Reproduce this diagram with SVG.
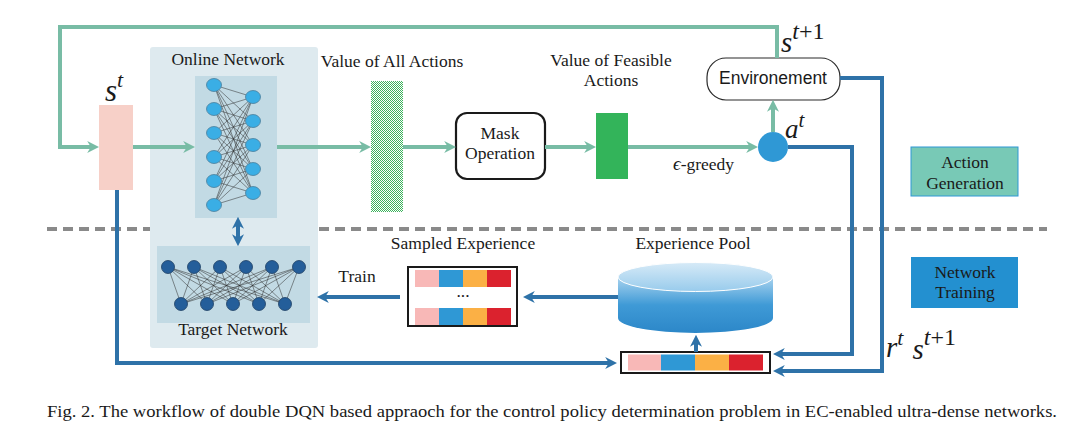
<svg xmlns="http://www.w3.org/2000/svg" width="1071" height="438" viewBox="0 0 1071 438">
<style>
.t{font-family:"Liberation Serif","Times New Roman",serif;font-size:17.5px;fill:#1a1a1a}
.m{font-family:"Liberation Serif","Times New Roman",serif;font-style:italic;fill:#1a1a1a}
.g{fill:none;stroke:#78bca5;stroke-width:4}
.b{fill:none;stroke:#2e72a8;stroke-width:4}
.w{fill:none;stroke:#2b2b2b;stroke-width:0.6;opacity:0.85}
.on{fill:#3aaee5;stroke:#4a7f9c;stroke-width:0.8}
.tn{fill:#245e9a;stroke:#1d3f63;stroke-width:0.8}
</style>
<defs>
<marker id="ag" viewBox="0 0 10 10" refX="4" refY="5" markerWidth="12" markerHeight="12" markerUnits="userSpaceOnUse" orient="auto"><path d="M0,0 L10,5 L0,10 L3,5 z" fill="#78bca5"/></marker>
<marker id="ab" viewBox="0 0 10 10" refX="4" refY="5" markerWidth="12" markerHeight="12" markerUnits="userSpaceOnUse" orient="auto-start-reverse"><path d="M0,0 L10,5 L0,10 L3,5 z" fill="#2e72a8"/></marker>
<pattern id="chk" width="2" height="2" patternUnits="userSpaceOnUse"><rect width="2" height="2" fill="#ffffff"/><rect width="1" height="1" fill="#3cb35c"/><rect x="1" y="1" width="1" height="1" fill="#3cb35c"/></pattern>
<linearGradient id="cyl" x1="0" y1="0" x2="0" y2="1"><stop offset="0" stop-color="#a9d3ef"/><stop offset="0.5" stop-color="#3f9ad6"/><stop offset="1" stop-color="#2c87c8"/></linearGradient>
<linearGradient id="cyltop" x1="0" y1="0" x2="0" y2="1"><stop offset="0" stop-color="#d6eaf7"/><stop offset="1" stop-color="#98cbec"/></linearGradient>
</defs>
<rect width="1071" height="438" fill="#ffffff"/>

<line x1="47" y1="229" x2="1047" y2="229" stroke="#8a8a8a" stroke-width="4" stroke-dasharray="10,6"/>

<g id="online-panel">
<rect x="150" y="47" width="168" height="301" rx="3" fill="#deeaef"/>
<text class="t" x="228" y="65" text-anchor="middle">Online Network</text>
</g>

<g id="online-network">
<rect x="195" y="76" width="82" height="142" fill="#c2dae4"/>
<path class="w" d="M214,85L253,97M214,85L253,121M214,85L253,145M214,85L253,169M214,85L253,193M214,109L253,97M214,109L253,121M214,109L253,145M214,109L253,169M214,109L253,193M214,133L253,97M214,133L253,121M214,133L253,145M214,133L253,169M214,133L253,193M214,157L253,97M214,157L253,121M214,157L253,145M214,157L253,169M214,157L253,193M214,181L253,97M214,181L253,121M214,181L253,145M214,181L253,169M214,181L253,193M214,205L253,97M214,205L253,121M214,205L253,145M214,205L253,169M214,205L253,193"/>
<ellipse class="on" cx="214" cy="85" rx="7.5" ry="6.5"/>
<ellipse class="on" cx="214" cy="109" rx="7.5" ry="6.5"/>
<ellipse class="on" cx="214" cy="133" rx="7.5" ry="6.5"/>
<ellipse class="on" cx="214" cy="157" rx="7.5" ry="6.5"/>
<ellipse class="on" cx="214" cy="181" rx="7.5" ry="6.5"/>
<ellipse class="on" cx="214" cy="205" rx="7.5" ry="6.5"/>
<ellipse class="on" cx="253" cy="97" rx="7.5" ry="6.5"/>
<ellipse class="on" cx="253" cy="121" rx="7.5" ry="6.5"/>
<ellipse class="on" cx="253" cy="145" rx="7.5" ry="6.5"/>
<ellipse class="on" cx="253" cy="169" rx="7.5" ry="6.5"/>
<ellipse class="on" cx="253" cy="193" rx="7.5" ry="6.5"/>
</g>

<g id="target-network">
<rect x="157" y="246" width="153" height="77" fill="#c2dae4"/>
<path class="w" d="M168,267L181,304M168,267L207,304M168,267L233,304M168,267L259,304M168,267L285,304M194,267L181,304M194,267L207,304M194,267L233,304M194,267L259,304M194,267L285,304M220,267L181,304M220,267L207,304M220,267L233,304M220,267L259,304M220,267L285,304M246,267L181,304M246,267L207,304M246,267L233,304M246,267L259,304M246,267L285,304M272,267L181,304M272,267L207,304M272,267L233,304M272,267L259,304M272,267L285,304M299,267L181,304M299,267L207,304M299,267L233,304M299,267L259,304M299,267L285,304"/>
<circle class="tn" cx="168" cy="267" r="6.5"/>
<circle class="tn" cx="194" cy="267" r="6.5"/>
<circle class="tn" cx="220" cy="267" r="6.5"/>
<circle class="tn" cx="246" cy="267" r="6.5"/>
<circle class="tn" cx="272" cy="267" r="6.5"/>
<circle class="tn" cx="299" cy="267" r="6.5"/>
<circle class="tn" cx="181" cy="304" r="6.5"/>
<circle class="tn" cx="207" cy="304" r="6.5"/>
<circle class="tn" cx="233" cy="304" r="6.5"/>
<circle class="tn" cx="259" cy="304" r="6.5"/>
<circle class="tn" cx="285" cy="304" r="6.5"/>
<text class="t" x="233" y="335" text-anchor="middle">Target Network</text>
</g>

<g id="state">
<rect x="99" y="105" width="34" height="85" fill="#f7d0c8"/>
<text class="m" x="105" y="101" font-size="31">s<tspan font-size="22" dy="-14">t</tspan></text>
</g>

<g id="value-all">
<rect x="371" y="81" width="32" height="131" fill="url(#chk)"/>
<text class="t" x="392" y="67" text-anchor="middle">Value of All Actions</text>
</g>

<g id="mask">
<rect x="456" y="113" width="89" height="66" rx="11" fill="#ffffff" stroke="#1a1a1a" stroke-width="2.2"/>
<text class="t" x="500" y="139" text-anchor="middle">Mask</text>
<text class="t" x="500" y="159" text-anchor="middle">Operation</text>
</g>

<g id="value-feasible">
<rect x="596" y="113" width="32" height="66" fill="#33b45a"/>
<text class="t" x="611" y="66" text-anchor="middle">Value of Feasible</text>
<text class="t" x="611" y="86" text-anchor="middle">Actions</text>
</g>

<g id="action">
<circle cx="773" cy="147" r="15" fill="#2f98d5"/>
<text class="m" x="785" y="138" font-size="27">a<tspan font-size="21" dy="-11">t</tspan></text>
<text class="t" x="673" y="170" font-size="16"><tspan font-style="italic" font-size="19">ϵ</tspan>-greedy</text>
</g>

<g id="environment">
<rect x="707" y="58" width="133" height="42" rx="19" fill="#ffffff" stroke="#2b2b2b" stroke-width="1.2"/>
<text x="773" y="84" text-anchor="middle" font-family="Liberation Sans, Arial, sans-serif" font-size="17.5" fill="#1a1a1a">Environement</text>
<text class="m" x="781" y="52" font-size="29">s<tspan font-size="24" dy="-13">t</tspan><tspan font-size="24" font-style="normal">+1</tspan></text>
</g>

<g id="sampled">
<text class="t" x="463" y="249" text-anchor="middle">Sampled Experience</text>
<rect x="408" y="267" width="109" height="59" fill="#ffffff" stroke="#1a1a1a" stroke-width="2"/>
<rect x="415" y="270" width="24" height="17" fill="#f8b8b7"/>
<rect x="439" y="270" width="24" height="17" fill="#2f98d5"/>
<rect x="463" y="270" width="24" height="17" fill="#fbb045"/>
<rect x="487" y="270" width="24" height="17" fill="#db222e"/>
<text class="t" x="463" y="297" text-anchor="middle" font-size="13">...</text>
<rect x="415" y="308" width="24" height="17" fill="#f8b8b7"/>
<rect x="439" y="308" width="24" height="17" fill="#2f98d5"/>
<rect x="463" y="308" width="24" height="17" fill="#fbb045"/>
<rect x="487" y="308" width="24" height="17" fill="#db222e"/>
</g>

<g id="pool">
<text class="t" x="693" y="249" text-anchor="middle">Experience Pool</text>
<path d="M618,277 V318 A77.5,15 0 0 0 773,318 V277 Z" fill="url(#cyl)"/>
<ellipse cx="695.5" cy="277" rx="77.5" ry="14.5" fill="url(#cyltop)" stroke="#ffffff" stroke-width="1"/>
</g>

<g id="transition">
<rect x="621" y="352" width="149" height="21" fill="#ffffff" stroke="#1a1a1a" stroke-width="2"/>
<rect x="628" y="354.5" width="33" height="16" fill="#f8b8b7"/>
<rect x="661" y="354.5" width="34" height="16" fill="#2f98d5"/>
<rect x="695" y="354.5" width="34" height="16" fill="#fbb045"/>
<rect x="729" y="354.5" width="34" height="16" fill="#db222e"/>
<text class="m" x="886" y="357" font-size="29">r<tspan font-size="22" dy="-12">t</tspan><tspan dy="14" dx="9">s</tspan><tspan font-size="24" dy="-14">t</tspan><tspan font-size="24" font-style="normal">+1</tspan></text>
</g>

<g id="legend-action">
<rect x="911" y="147" width="107" height="49" fill="#78c9b6" stroke="#2f98d5" stroke-width="1"/>
<text class="t" x="965" y="168" text-anchor="middle">Action</text>
<text class="t" x="965" y="189" text-anchor="middle">Generation</text>
</g>

<g id="legend-training">
<rect x="911" y="257" width="107" height="51" fill="#2390d0"/>
<text class="t" x="965" y="278" text-anchor="middle">Network</text>
<text class="t" x="965" y="298" text-anchor="middle">Training</text>
</g>

<g id="connectors">
<path class="g" d="M777,58 V27 H60 V147 H92" marker-end="url(#ag)"/>
<path class="g" d="M133,147 H188" marker-end="url(#ag)"/>
<path class="g" d="M277,147 H364" marker-end="url(#ag)"/>
<path class="g" d="M403,147 H449" marker-end="url(#ag)"/>
<path class="g" d="M545,147 H589" marker-end="url(#ag)"/>
<path class="g" d="M628,147 H751" marker-end="url(#ag)"/>
<path class="g" d="M773,132 V107" marker-end="url(#ag)"/>
<path class="b" d="M117,190 V363 H610" marker-end="url(#ab)"/>
<path class="b" d="M788,147 H852 V354 H780" marker-end="url(#ab)"/>
<path class="b" d="M840,78 H882 V371 H780" marker-end="url(#ab)"/>
<path class="b" d="M696,352 V342" marker-end="url(#ab)"/>
<path class="b" d="M618,297 H530" marker-end="url(#ab)"/>
<path class="b" d="M400,297 H324" marker-end="url(#ab)"/>
<path class="b" d="M238,224 V239" marker-start="url(#ab)" marker-end="url(#ab)"/>
<text class="t" x="357" y="282" text-anchor="middle">Train</text>
</g>

<text class="t" x="47" y="417" font-size="15" textLength="1010" lengthAdjust="spacingAndGlyphs">Fig. 2.  The workflow of double DQN based appraoch for the control policy determination problem in EC-enabled ultra-dense networks.</text>
</svg>
